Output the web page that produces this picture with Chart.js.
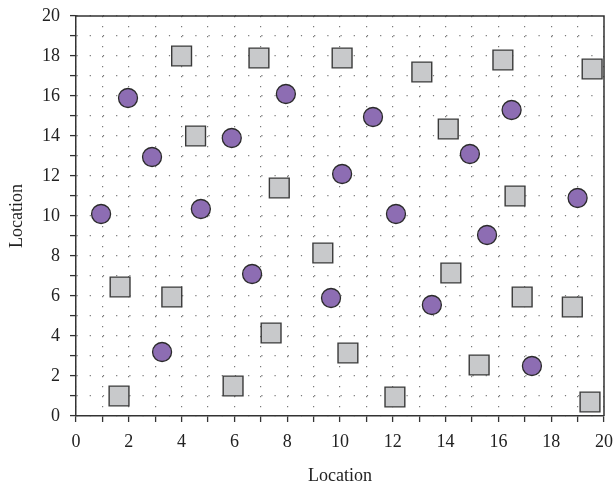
<!DOCTYPE html>
<html>
<head>
<meta charset="utf-8">
<script src="https://cdn.jsdelivr.net/npm/chart.js@4/dist/chart.umd.min.js"></script>
<style>
html,body{margin:0;padding:0;background:#fff;}
#wrap{width:615px;height:483px;}
</style>
</head>
<body>
<div id="wrap"><canvas id="c" width="615" height="483"></canvas></div>
<script>
const circleX = [0.95, 1.97, 2.88, 3.26, 4.73, 5.9, 6.67, 7.95, 9.66, 10.08, 11.25, 12.12, 13.48, 14.92, 15.57, 16.5, 17.27, 19.0];
const circleY = [10.1, 15.9, 12.95, 3.2, 10.35, 13.9, 7.1, 16.1, 5.9, 12.1, 14.95, 10.1, 5.55, 13.1, 9.05, 15.3, 2.5, 10.9];
const squareX = [4.0, 6.93, 10.08, 13.1, 16.17, 19.55, 4.53, 14.1, 7.7, 16.63, 9.35, 1.67, 3.63, 14.2, 16.9, 18.8, 7.39, 10.3, 15.27, 1.63, 5.95, 12.08, 19.47];
const squareY = [18.0, 17.9, 17.9, 17.2, 17.8, 17.35, 14.0, 14.35, 11.4, 11.0, 8.15, 6.45, 5.95, 7.15, 5.95, 5.45, 4.15, 3.15, 2.55, 1.0, 1.5, 0.95, 0.7];
const axisMin = 0, axisMax = 20, tickStep = 1, labelStep = 2;
const xTitle = 'Location', yTitle = 'Location';

const circles = circleX.map((x, i) => ({x, y: circleY[i]}));
const squares = squareX.map((x, i) => ({x, y: squareY[i]}));

const FONT = '"Liberation Serif", "DejaVu Serif", serif';

const frame = {
  id: 'frame',
  afterDatasetsDraw(chart) {
    const {ctx, chartArea: a} = chart;
    ctx.save();
    ctx.strokeStyle = '#333';
    ctx.lineWidth = 1.5;
    ctx.setLineDash([]);
    ctx.beginPath();
    ctx.moveTo(a.left, a.top);
    ctx.lineTo(a.right, a.top);
    ctx.lineTo(a.right, a.bottom);
    ctx.stroke();
    ctx.restore();
  }
};

const gridCommon = {
  color: '#7a7a7a',
  lineWidth: 1.2,
  drawTicks: true,
  tickLength: 6,
  tickColor: '#333',
  tickWidth: 1.3,
  tickBorderDash: []
};

new Chart(document.getElementById('c'), {
  type: 'scatter',
  data: {
    datasets: [
      {
        data: circles,
        pointStyle: 'circle',
        pointRadius: 9.5,
        pointHoverRadius: 9.5,
        backgroundColor: '#8d6db3',
        borderColor: '#2b2b2b',
        borderWidth: 1.3,
        clip: false
      },
      {
        data: squares,
        pointStyle: 'rect',
        pointRadius: 14,
        pointHoverRadius: 14,
        backgroundColor: '#c8c9cb',
        borderColor: '#3a3a3a',
        borderWidth: 1.4,
        clip: false
      }
    ]
  },
  options: {
    responsive: false,
    animation: false,
    events: [],
    layout: {autoPadding: false, padding: {left: 0, right: 0, top: 0, bottom: 0}},
    plugins: {legend: {display: false}, tooltip: {enabled: false}},
    scales: {
      x: {
        type: 'linear',
        min: axisMin, max: axisMax,
        border: {display: true, color: '#333', width: 1.5, dash: [1.2, 8.8]},
        grid: gridCommon,
        ticks: {
          stepSize: tickStep, autoSkip: false, maxRotation: 0,
          color: '#222', font: {family: FONT, size: 18, lineHeight: 2.05}, padding: 2,
          callback: v => (v % labelStep === 0 ? v : '')
        },
        title: {display: true, text: xTitle, color: '#222', font: {family: FONT, size: 18}, padding: {top: 6, bottom: -4}},
        afterFit: s => { s.height = 67; s.paddingRight = 11; s.paddingLeft = 0; }
      },
      y: {
        type: 'linear',
        min: axisMin, max: axisMax,
        border: {display: true, color: '#333', width: 1.5, dash: [1.2, 12]},
        grid: gridCommon,
        ticks: {
          stepSize: tickStep, autoSkip: false,
          color: '#222', font: {family: FONT, size: 18}, padding: 10,
          callback: v => (v % labelStep === 0 ? v : '')
        },
        title: {display: true, text: yTitle, color: '#222', font: {family: FONT, size: 18}, padding: {top: 6, bottom: 4}},
        afterFit: s => { s.width = 76; s.paddingTop = 16; s.paddingBottom = 0; }
      }
    }
  },
  plugins: [frame]
});
</script>
</body>
</html>
